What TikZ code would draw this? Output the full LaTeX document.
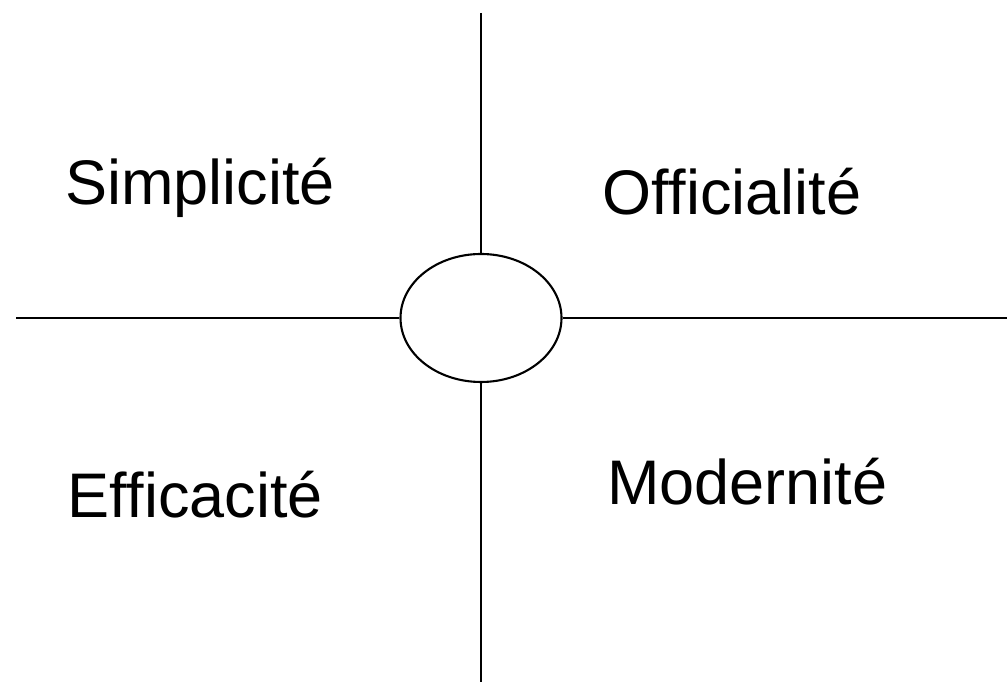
\documentclass[tikz,border=0pt]{standalone}
\usepackage{fontspec}
\setmainfont{Liberation Sans}[Ligatures={NoCommon,NoRare}]
\usetikzlibrary{shapes.geometric}
\begin{document}
\begin{tikzpicture}[x=1pt,y=1pt,
  axis/.style={line width=2.1pt,black},
  lbl/.style={anchor=base west,inner sep=0pt,font=\fontsize{63}{70}\selectfont}]
\useasboundingbox (0,0) rectangle (1007,682);
\node[draw,ellipse,line width=2.1pt,minimum width=161pt,minimum height=128pt,inner sep=0pt] (c) at (481,364) {};
\coordinate (top) at (481,669);
\coordinate (bot) at (481,0);
\coordinate (left) at (16,364);
\coordinate (right) at (1007,364);
\draw[axis] (top) -- (c.north);
\draw[axis] (c.south) -- (bot);
\draw[axis] (left) -- (c.west);
\draw[axis] (c.east) -- (right);
\node[lbl] (s) at (65,477) {Simplicité};
\node[lbl] (o) at (602,467) {Of\kern0ptf\kern0pticialité};
\node[lbl] (e) at (67,164) {Ef\kern0ptf\kern0pticacité};
\node[lbl] (m) at (607,177) {Modernité};
\end{tikzpicture}
\end{document}
